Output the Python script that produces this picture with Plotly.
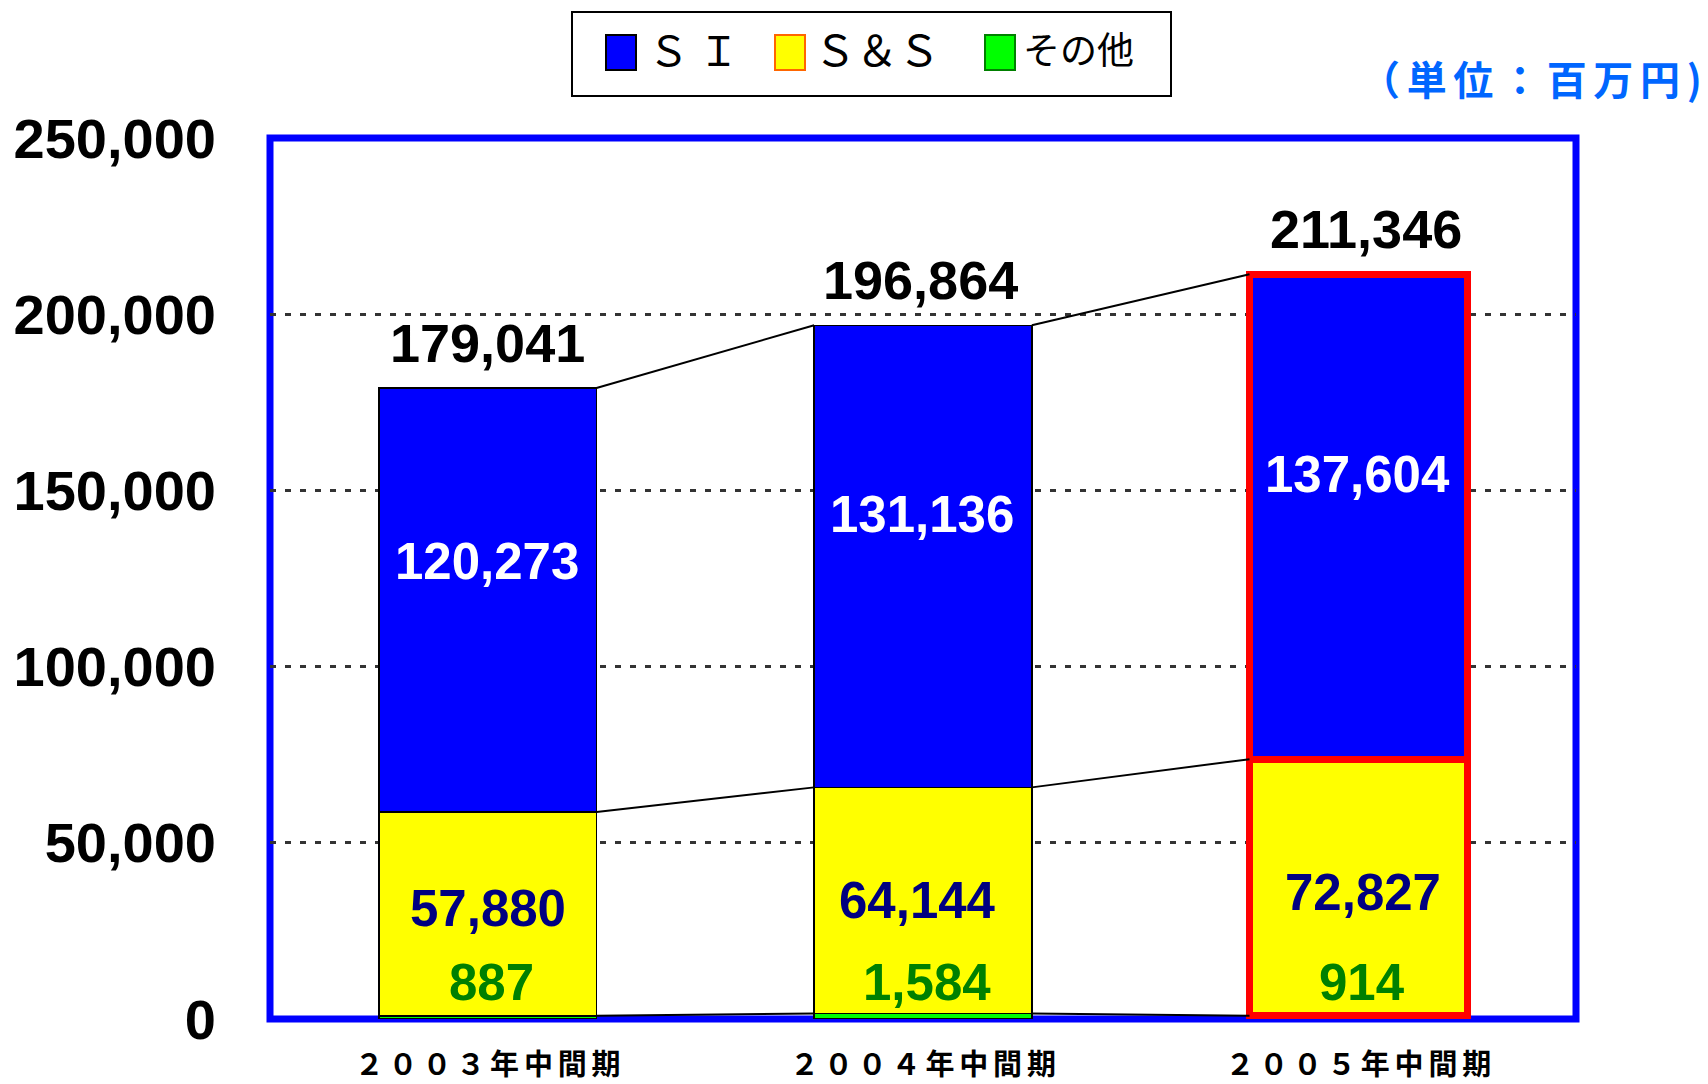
import plotly.graph_objects as go

# ---- data ----
categories = ["２００３年中間期", "２００４年中間期", "２００５年中間期"]
si_values = [120273, 131136, 137604]
ss_values = [57880, 64144, 72827]
other_values = [887, 1584, 914]
total_values = [179041, 196864, 211346]
series_names = ["Ｓ Ｉ", "Ｓ＆Ｓ", "その他"]
y_tick_values = [0, 50000, 100000, 150000, 200000, 250000]
y_tick_labels = ["0", "50,000", "100,000", "150,000", "200,000", "250,000"]
unit_label = "\u2006".join(["（", "単", "位", "：", "百", "万", "円", ")"])

# page is shown with the browser's default 8px body margin
OFF = 8
W, H = 1708 - OFF, 1084 - OFF
L, T = 270 - OFF, 138 - OFF
R = W - (1576 - OFF)
B = H - (1019 - OFF)
PW, PH = W - L - R, H - T - B

def px_x(x):  # reference-screen pixel -> paper coordinate
    return (x - OFF - L) / PW

def px_y(y):
    return (H - B - (y - OFF)) / PH

xs = list(range(len(categories)))
tick_text = ["\u2006".join(list(c)) for c in categories]
bar_w = 0.5
edge_colors = ["black", "black", "#FF0000"]
edge_widths = [1.5, 1.5, 7]

NUM_FONT = "Liberation Sans, Arial, sans-serif"
JP_FONT = "Noto Sans CJK JP, sans-serif"

fig = go.Figure()
for name, vals, color in [("その他", other_values, "#00FF00"),
                          ("Ｓ＆Ｓ", ss_values, "#FFFF00"),
                          ("ＳＩ", si_values, "#0000FF")]:
    fig.add_trace(go.Bar(
        x=xs, y=vals, name=name, width=bar_w,
        marker=dict(color=color, line=dict(color=edge_colors, width=edge_widths)),
        showlegend=False, hoverinfo="y+name",
    ))

# connector lines between bars
cum_other = other_values
cum_ss = [o + s for o, s in zip(other_values, ss_values)]
cum_total = [o + s + i for o, s, i in zip(other_values, ss_values, si_values)]
for level in (cum_other, cum_ss, cum_total):
    for i in range(len(xs) - 1):
        fig.add_trace(go.Scatter(
            x=[xs[i] + bar_w / 2, xs[i + 1] - bar_w / 2],
            y=[level[i], level[i + 1]],
            mode="lines", line=dict(color="black", width=2),
            showlegend=False, hoverinfo="skip",
        ))

ann = []
tot_xshift = [0, -3, 8]
si_yshift = [38, 42, 42]
for i in xs:
    ann.append(dict(x=xs[i], y=cum_total[i], text=f"{total_values[i]:,}", showarrow=False,
                    yshift=45, xshift=tot_xshift[i], yanchor="middle",
                    font=dict(family=NUM_FONT, size=54, color="black", weight="bold")))
    ann.append(dict(x=xs[i], y=cum_ss[i] + si_values[i] / 2, text=f"{si_values[i]:,}",
                    showarrow=False, yshift=si_yshift[i], xshift=-1, yanchor="middle",
                    font=dict(family=NUM_FONT, size=51, color="white", weight="bold")))
    ann.append(dict(x=xs[i], y=other_values[i] + ss_values[i] / 2, text=f"{ss_values[i]:,}",
                    showarrow=False, yshift=[5, 0, -5][i], xshift=[0, -6, 5][i], yanchor="middle",
                    font=dict(family=NUM_FONT, size=51, color="#000080", weight="bold")))
    ann.append(dict(x=xs[i], y=0, text=f"{other_values[i]:,}", showarrow=False,
                    yshift=37, xshift=[4, 4, 4][i], yanchor="middle",
                    font=dict(family=NUM_FONT, size=51, color="#008000", weight="bold")))

# unit label
ann.append(dict(xref="paper", yref="paper", x=px_x(1703), y=px_y(78), text=unit_label,
                showarrow=False, xanchor="right", yanchor="middle", borderpad=0,
                font=dict(family=JP_FONT, size=40, color="#0066FF", weight="bold")))

shapes = []
# plot border
shapes.append(dict(type="rect", xref="paper", yref="paper", x0=0, x1=1, y0=0, y1=1,
                   line=dict(color="#0000FF", width=7), layer="between"))
# custom legend
shapes.append(dict(type="rect", xref="paper", yref="paper",
                   x0=px_x(572), x1=px_x(1171), y0=px_y(96), y1=px_y(12),
                   line=dict(color="black", width=2), fillcolor="white"))
legend_items = [
    (series_names[0], 41, "#0000FF", "black", 606, 646),
    (series_names[1], 42, "#FFFF00", "#FF6600", 775, 812),
    (series_names[2], 37, "#00FF00", "#008000", 985, 1021),
]
for label, fsize, fill, edge, sx, tx in legend_items:
    shapes.append(dict(type="rect", xref="paper", yref="paper",
                       x0=px_x(sx), x1=px_x(sx + 30), y0=px_y(70), y1=px_y(35),
                       line=dict(color=edge, width=2), fillcolor=fill))
    ann.append(dict(xref="paper", yref="paper", x=px_x(tx), y=px_y(48), text=label,
                    showarrow=False, xanchor="left", yanchor="middle",
                    font=dict(family=JP_FONT, size=fsize, color="black")))

fig.update_layout(
    width=W, height=H,
    margin=dict(l=L, r=R, t=T, b=B, autoexpand=False),
    paper_bgcolor="white", plot_bgcolor="white",
    barmode="stack",
    annotations=ann, shapes=shapes,
    showlegend=False,
    xaxis=dict(range=[-0.5, 2.5], tickvals=xs, ticktext=tick_text, showgrid=False,
               zeroline=False, showline=False, ticks="", ticklabelstandoff=26,
               automargin=False,
               tickfont=dict(family=JP_FONT, size=29, color="black", weight="bold"),
               fixedrange=True),
    yaxis=dict(range=[0, 250000], tickvals=y_tick_values, ticktext=y_tick_labels,
               showgrid=True, gridcolor="#333333", gridwidth=2.5, griddash="6px,9px",
               zeroline=False, showline=False, ticks="", ticklabelstandoff=53,
               automargin=False,
               tickfont=dict(family=NUM_FONT, size=56, color="black", weight="bold"),
               fixedrange=True),
)

fig.write_html("out.html")
